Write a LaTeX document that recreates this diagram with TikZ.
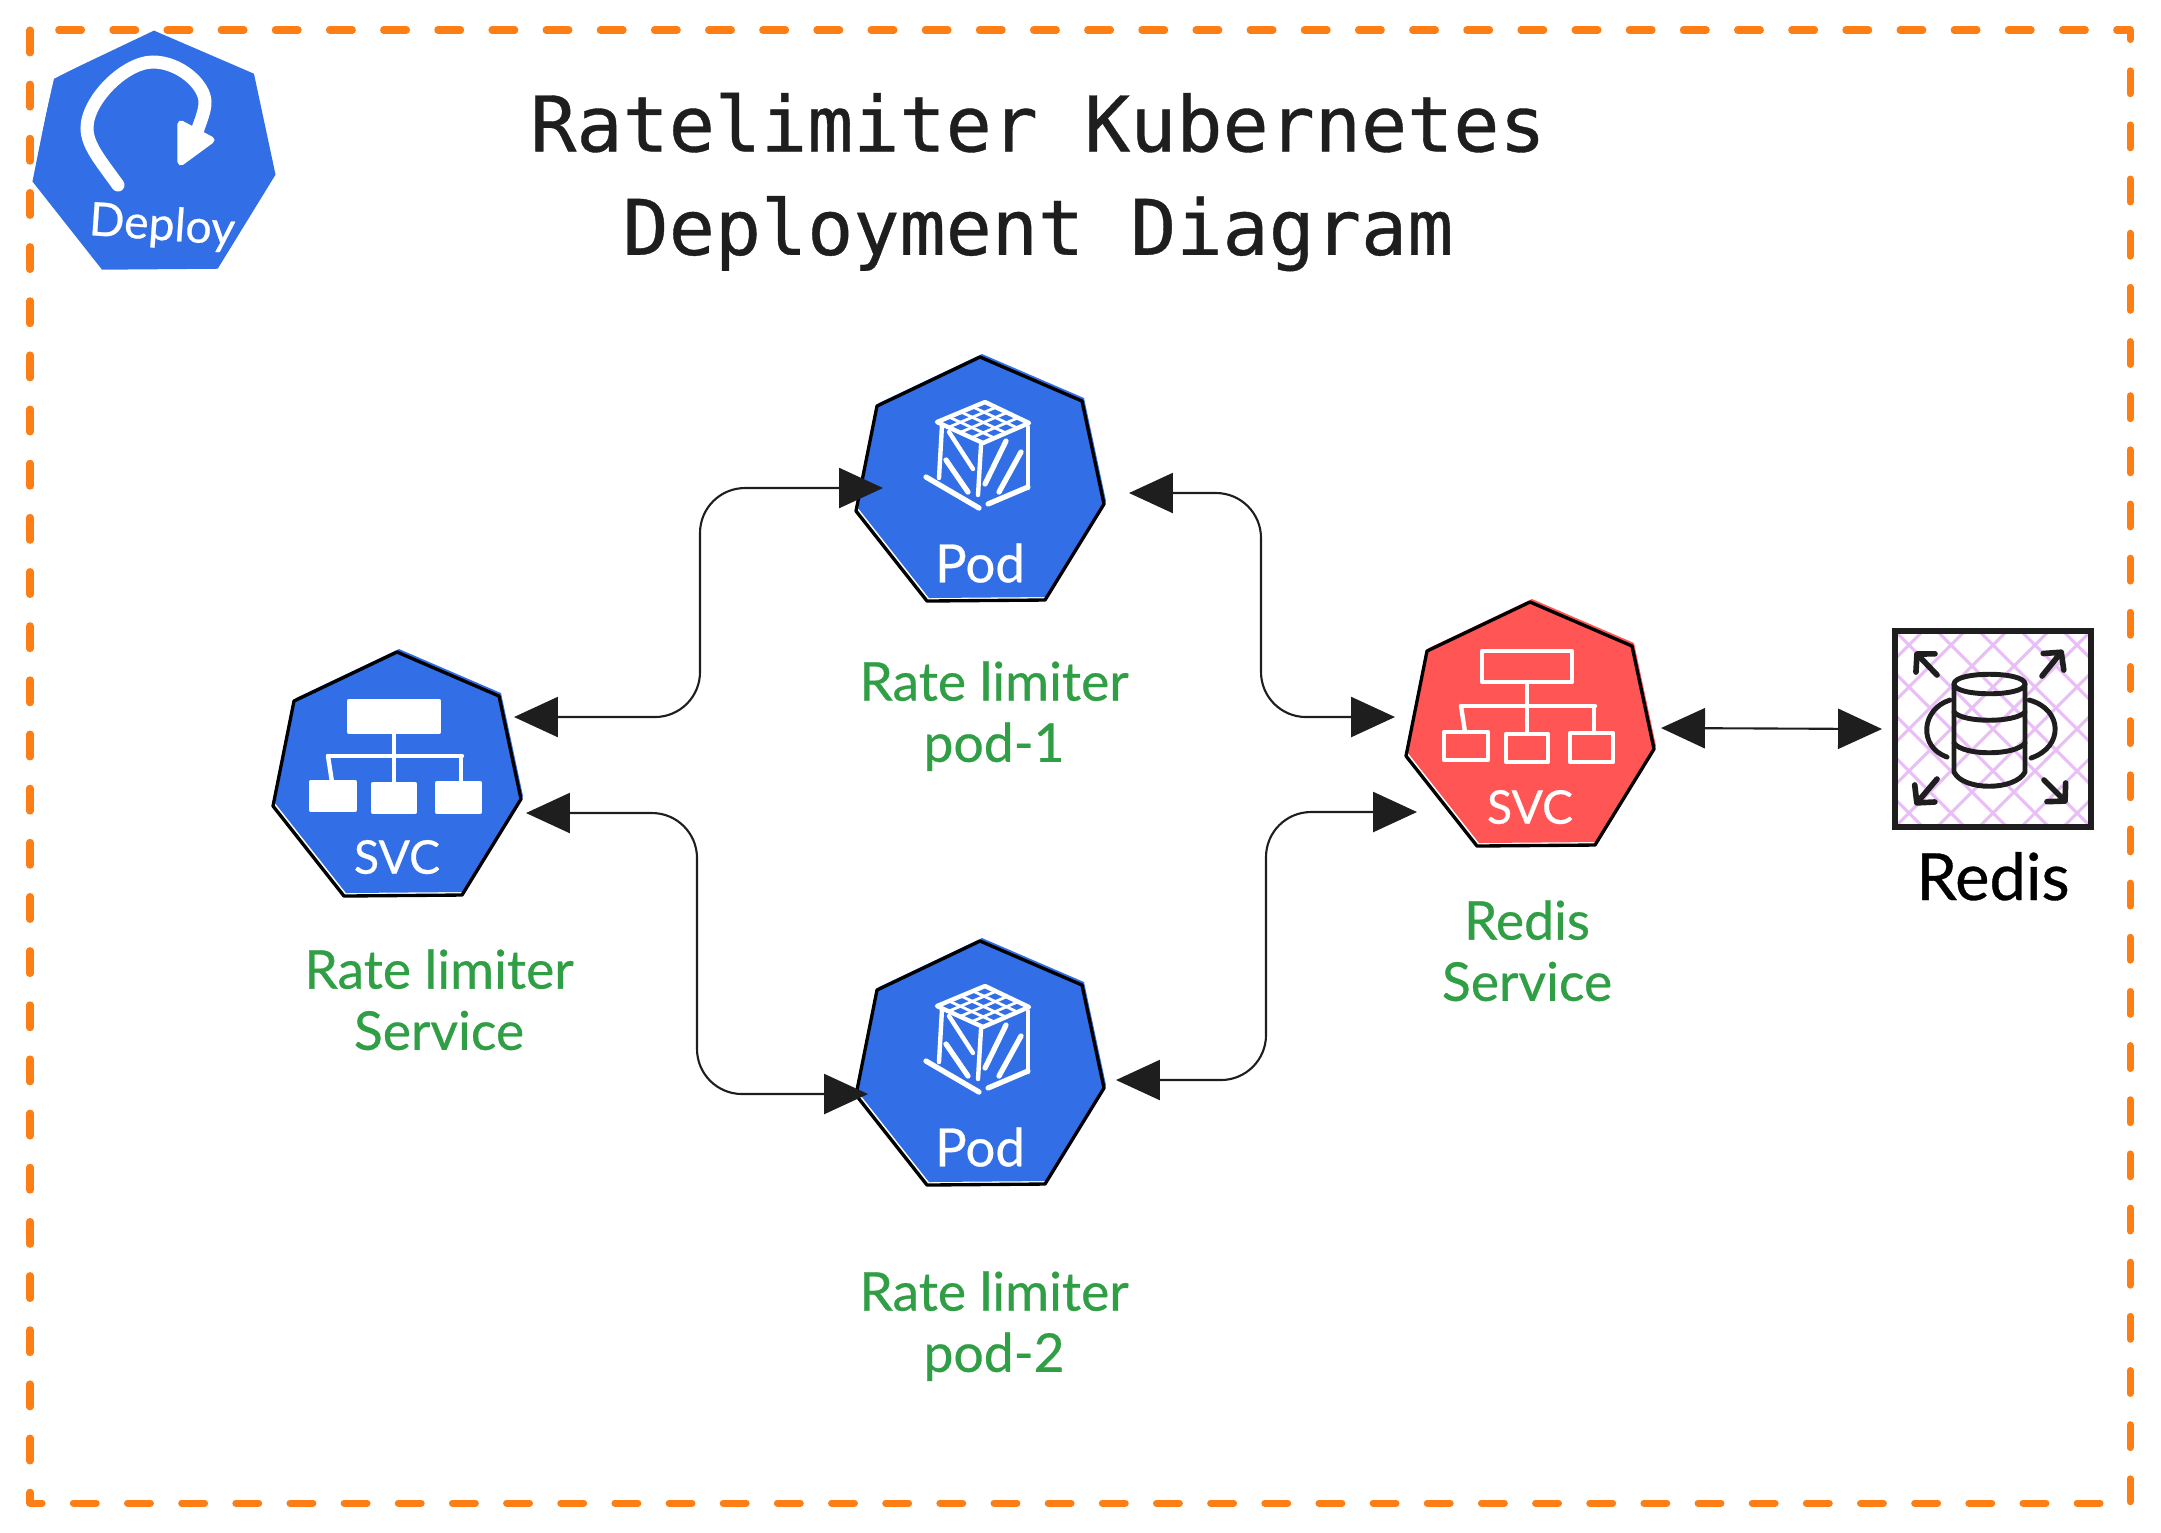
\documentclass[tikz,border=0pt]{standalone}
\usepackage{fontspec}
\setmainfont[FakeBold=0.5]{Lato}
\newfontfamily\titlefont[FakeBold=0.5]{DejaVu Sans Mono}
\usetikzlibrary{positioning,arrows.meta,calc}

\definecolor{inkblack}{HTML}{1E1E1E}
\definecolor{hubblue}{HTML}{326EE6}
\definecolor{hubred}{HTML}{FF5555}
\definecolor{capgreen}{HTML}{2F9E44}
\definecolor{frameorange}{HTML}{FD7E14}
\definecolor{hatchpink}{HTML}{E9BDF6}

\newcommand{\heptpath}{(0,-129) -- (102,-85) -- (124,18) -- (65,114) -- (-53,115) -- (-124,25) -- (-103,-80) -- cycle}

\tikzset{
    hub/.style={circle, minimum size=2.4cm, inner sep=0pt},
    caption/.style={text=capgreen, align=center, font=\fontsize{15.2}{17.4}\selectfont},
    icontext/.style={text=white, font=\fontsize{15}{17}\selectfont},
    smalltext/.style={text=white, font=\fontsize{13.2}{15}\selectfont},
    link/.style={draw=inkblack, line width=0.6pt, rounded corners=0.45cm,
        {Triangle[length=12.5pt,width=11.4pt]}-{Triangle[length=12.5pt,width=11.4pt]}},
    iconline/.style={draw=white, line width=1.25pt, line cap=round, line join=round},
    dbline/.style={draw=inkblack, line width=1.4pt, line cap=round, line join=round},
    dbarrow/.style={dbline, line width=1.6pt, -{Straight Barb[length=3.5pt,width=7.5pt,round]}},
    hatch/.style={draw=hatchpink, line width=0.85pt},
    redisbox/.style={rectangle, draw=inkblack, line width=1.5pt, minimum size=1.96cm, inner sep=0pt,
        path picture={
            \foreach \k in {-6,...,6} {
                \draw[hatch] ([xshift=\k*0.42cm-1.2cm,yshift=1.2cm]path picture bounding box.center) -- ++(240,240);
                \draw[hatch] ([xshift=\k*0.42cm+1.2cm,yshift=1.2cm]path picture bounding box.center) -- ++(-240,240);
            }
        }},
    pics/heptfill/.style={code={
        \fill[#1] \heptpath;
    }},
    pics/heptline/.style={code={
        \fill[#1,shift={(2,-3)}] \heptpath;
        \draw[black, line width=0.95pt, line join=round] \heptpath;
    }},
    pics/podicon/.style={code={
        \coordinate (cl) at (-43,-64);
        \coordinate (ct) at (5,-84);
        \coordinate (cr) at (49,-63);
        \coordinate (cb) at (3,-43);
        \draw[iconline] (cl) -- (ct) -- (cr) -- (cb) -- cycle;
        \foreach \t in {0.25,0.5,0.75} {
            \draw[iconline, line width=0.8pt] ($(cl)!\t!(cb)$) -- ($(ct)!\t!(cr)$);
            \draw[iconline, line width=0.8pt] ($(cl)!\t!(ct)$) -- ($(cb)!\t!(cr)$);
        }
        \draw[iconline] (-38,-61) -- (-41,-8);
        \draw[iconline] (1,-41) -- (-2,9);
        \draw[iconline] (48,-59) -- (48,2);
        \draw[iconline, line width=1.5pt] (-54,-9) -- (-1,22);
        \draw[iconline, line width=1.5pt] (8,18) -- (48,1);
        \draw[iconline] (-31,-54) -- (-7,-17);
        \draw[iconline, line width=1.5pt] (-34,-26) -- (-12,6);
        \draw[iconline, line width=1.5pt] (26,-45) -- (5,-2);
        \draw[iconline, line width=1.5pt] (41,-34) -- (19,6);
    }},
    pics/svcicon/.style={code={
        \path[iconline, #1] (-48,-80) rectangle (42,-49);
        \draw[iconline] (-3,-49) -- (-3,1);
        \draw[iconline] (-69,-25) -- (65,-25);
        \draw[iconline] (-69,-25) -- (-65,1);
        \draw[iconline] (64,-25) -- (64,2);
        \path[iconline, #1] (-86,1) rectangle (-42,29);
        \path[iconline, #1] (-24,3) rectangle (18,31);
        \path[iconline, #1] (40,2) rectangle (83,31);
    }},
}

\begin{document}
\begin{tikzpicture}[x=0.01cm, y=-0.01cm]
    \useasboundingbox (0,0) rectangle (2161,1532);

    % outer frame
    \draw[frameorange, line width=2pt, line cap=round, line join=round, dash pattern=on 6.5pt off 8.9pt] (30,30) rectangle (2130,1503);

    \node [text=inkblack, align=center, font=\titlefont\fontsize{21.8}{29.4}\selectfont] (title) at (1038,182) {Ratelimiter Kubernetes\\Deployment Diagram};

    % deploy badge
    \pic [scale=0.98] at (154,157) {heptfill=hubblue};
    \node [hub] (deploy) at (154,157) {};
    \draw[white, line width=0.6pt] (119,44) -- (53,78) -- (40,135);
    \draw[white, line width=3.7pt, line cap=round] (118,185) .. controls (100,160) and (87,145) .. (87,128)
        .. controls (87,100) and (125,62) .. (153,62) .. controls (180,62) and (205,85) .. (205,102)
        .. controls (205,112) and (200,122) .. (197,132);
    \fill[white, draw=white, line width=2pt, line join=round] (181,124) -- (211,140) -- (181,162) -- cycle;
    \node [smalltext, rotate=-4] (deploytext) at (162,227) {Deploy};

    % hubs
    \pic at (397,781) {heptline=hubblue};
    \pic at (980,486) {heptline=hubblue};
    \pic at (980,1070) {heptline=hubblue};
    \pic at (1530,731) {heptline=hubred};
    \node [hub] (svcl) at (397,781) {};
    \node [hub] (pod1) at (980,486) {};
    \node [hub] (pod2) at (980,1070) {};
    \node [hub] (svcr) at (1530,731) {};

    \pic at (397,781) {svcicon={fill=white}};
    \pic at (1530,731) {svcicon={fill=none}};
    \pic at (980,486) {podicon};
    \pic at (980,1070) {podicon};

    \node [smalltext] (svcltext) at ([yshift=-0.76cm]svcl.center) {SVC};
    \node [smalltext] (svcrtext) at ([yshift=-0.76cm]svcr.center) {SVC};
    \node [icontext] (pod1text) at ([yshift=-0.77cm]pod1.center) {Pod};
    \node [icontext] (pod2text) at ([yshift=-0.77cm]pod2.center) {Pod};

    \node [caption, below=0.35cm of svcl, xshift=0.42cm] (svclcap) {Rate limiter\\Service};
    \node [caption, below=0.42cm of pod1, xshift=0.14cm] (pod1cap) {Rate limiter\\pod-1};
    \node [caption, below=0.68cm of pod2, xshift=0.14cm] (pod2cap) {Rate limiter\\pod-2};
    \node [caption, below=0.36cm of svcr, xshift=-0.03cm] (svcrcap) {Redis\\Service};

    % redis store
    \node [redisbox] (redis) at (1993,729) {};
    \begin{scope}[shift={(1993,729)}]
        \draw[dbline] (-39,-45) .. controls (-39,-58) and (32,-58) .. (32,-45) .. controls (32,-32) and (-39,-32) .. cycle;
        \draw[dbline] (-39,-45) -- (-39,43) .. controls (-30,62) and (22,62) .. (32,43) -- (32,-45);
        \draw[dbline] (-39,-17) .. controls (-30,-6) and (22,-6) .. (32,-17);
        \draw[dbline] (-39,14) .. controls (-30,27) and (22,27) .. (32,14);
        \draw[dbline] (-43,-29) .. controls (-72,-20) and (-75,18) .. (-46,28);
        \draw[dbline] (36,-29) .. controls (70,-20) and (71,18) .. (38,29);
        \draw[dbarrow] (-56,-54) -- (-78,-77);
        \draw[dbarrow] (49,-53) -- (70,-79);
        \draw[dbarrow] (-56,50) -- (-78,76);
        \draw[dbarrow] (51,51) -- (74,74);
    \end{scope}
    \node [below=0.1cm of redis, text=black, font=\fontsize{18.5}{20}\selectfont] (redistext) {Redis};

    % connectors
    \coordinate (busa) at (700,600);
    \coordinate (busb) at (1261,600);
    \coordinate (busc) at (697,950);
    \coordinate (busd) at (1266,950);

    \draw [link] ([shift={(117,-64)}]svcl.center) -| (busa) |- ([shift={(-97,2)}]pod1.center);
    \draw [link] ([shift={(149,7)}]pod1.center) -| (busb) |- ([shift={(-135,-14)}]svcr.center);
    \draw [link] ([shift={(129,32)}]svcl.center) -| (busc) |- ([shift={(-112,24)}]pod2.center);
    \draw [link] ([shift={(136,10)}]pod2.center) -| (busd) |- ([shift={(-113,81)}]svcr.center);
    \draw [link] ([shift={(131,-3)}]svcr.center) -- ([shift={(-111,0)}]redis.center);
\end{tikzpicture}
\end{document}
